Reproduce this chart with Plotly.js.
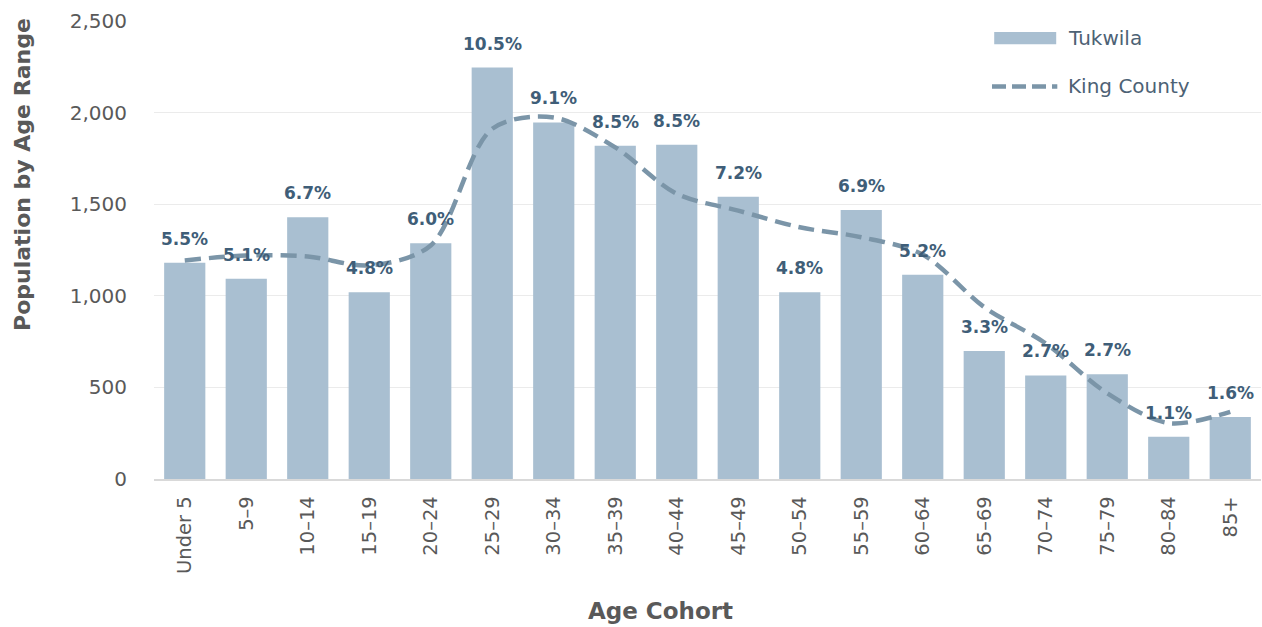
<!DOCTYPE html>
<html>
<head>
<meta charset="utf-8">
<script src="https://cdn.plot.ly/plotly-3.0.1.min.js"></script>
<style>html,body{margin:0;padding:0;background:#fff;}#chart{width:1262px;height:627px;}</style>
</head>
<body>
<div id="chart"></div>
<script>
const categories = ["Under 5","5–9","10–14","15–19","20–24","25–29","30–34","35–39","40–44","45–49","50–54","55–59","60–64","65–69","70–74","75–79","80–84","85+"];
const tukwila = [1180,1093,1429,1019,1287,2246,1946,1819,1825,1541,1020,1469,1115,699,565,572,230,339];
const tukwilaPct = ["5.5%","5.1%","6.7%","4.8%","6.0%","10.5%","9.1%","8.5%","8.5%","7.2%","4.8%","6.9%","5.2%","3.3%","2.7%","2.7%","1.1%","1.6%"];
const kingCounty = [1193,1220,1215,1166,1275,1912,1973,1810,1557,1465,1374,1320,1225,938,740,468,305,367];
const yTicks = [0,500,1000,1500,2000,2500];

const FONT = "'DejaVu Sans', sans-serif";
const barColor = "#a9bfd1";
const lineColor = "#7b95a8";
const labelColor = "#3f5e78";
const axisText = "#595959";

const traces = [
  {
    type: "bar", name: "Tukwila", x: categories, y: tukwila,
    marker: {color: barColor}, showlegend: false, hoverinfo: "skip"
  },
  {
    type: "scatter", mode: "lines", name: "King County", x: categories, y: kingCounty,
    line: {color: lineColor, width: 4.5, dash: "16px,8px", shape: "spline", smoothing: 0.9},
    showlegend: false, hoverinfo: "skip"
  }
];

const pctAnnotations = categories.map((c, i) => ({
  x: c, y: tukwila[i], xref: "x", yref: "y", yanchor: "bottom", yshift: 12,
  showarrow: false, text: tukwilaPct[i],
  font: {family: FONT, size: 17, color: labelColor, weight: 700}
}));

const layout = {
  width: 1262, height: 627,
  margin: {l: 154, r: 1, t: 21, b: 148},
  paper_bgcolor: "#fff", plot_bgcolor: "#fff",
  font: {family: FONT, color: axisText},
  bargap: 0.33,
  xaxis: {
    type: "category", tickangle: -90, showgrid: false,
    tickfont: {family: FONT, size: 19.5, color: axisText},
    showline: true, linecolor: "#d9d9d9", linewidth: 1.5, ticks: "",
    ticklabelstandoff: 8,
    automargin: false
  },
  yaxis: {
    range: [0, 2500], tickvals: yTicks, tickformat: ",d",
    tickfont: {family: FONT, size: 20, color: axisText},
    gridcolor: "#ebebeb", gridwidth: 1.2, zeroline: false, ticks: "",
    ticklabelstandoff: 26,
    automargin: false
  },
  shapes: [
    {type: "rect", xref: "paper", yref: "paper", x0: 0.719, x1: 0.985, y0: 0.82, y1: 1.03,
     fillcolor: "#fff", line: {width: 0}, layer: "above"},
    {type: "rect", xref: "paper", yref: "paper", x0: 0.759, x1: 0.815, y0: 0.949, y1: 0.976,
     fillcolor: barColor, line: {width: 0}, layer: "above"},
    {type: "line", xref: "paper", yref: "paper", x0: 0.757, x1: 0.816, y0: 0.857, y1: 0.857,
     line: {color: lineColor, width: 4.5, dash: "14px,6px"}, layer: "above"}
  ],
  annotations: pctAnnotations.concat([
    {xref: "paper", yref: "paper", x: 0.824, y: 0.962, xanchor: "left", yanchor: "middle", showarrow: false,
     text: "Tukwila", font: {family: FONT, size: 20, color: "#4d6275"}},
    {xref: "paper", yref: "paper", x: 0.824, y: 0.857, xanchor: "left", yanchor: "middle", showarrow: false,
     text: "King County", font: {family: FONT, size: 20, color: "#4d6275"}},
    {xref: "paper", yref: "paper", x: -0.1183, y: 0.664, xanchor: "center", yanchor: "middle", showarrow: false,
     textangle: -90, text: "Population by Age Range", font: {family: FONT, size: 22, color: axisText, weight: 700}},
    {xref: "paper", yref: "paper", x: 0.4577, y: -0.288, xanchor: "center", yanchor: "middle", showarrow: false,
     text: "Age Cohort", font: {family: FONT, size: 23, color: axisText, weight: 700}}
  ])
};

Plotly.newPlot("chart", traces, layout, {displayModeBar: false, staticPlot: true});
</script>
</body>
</html>
